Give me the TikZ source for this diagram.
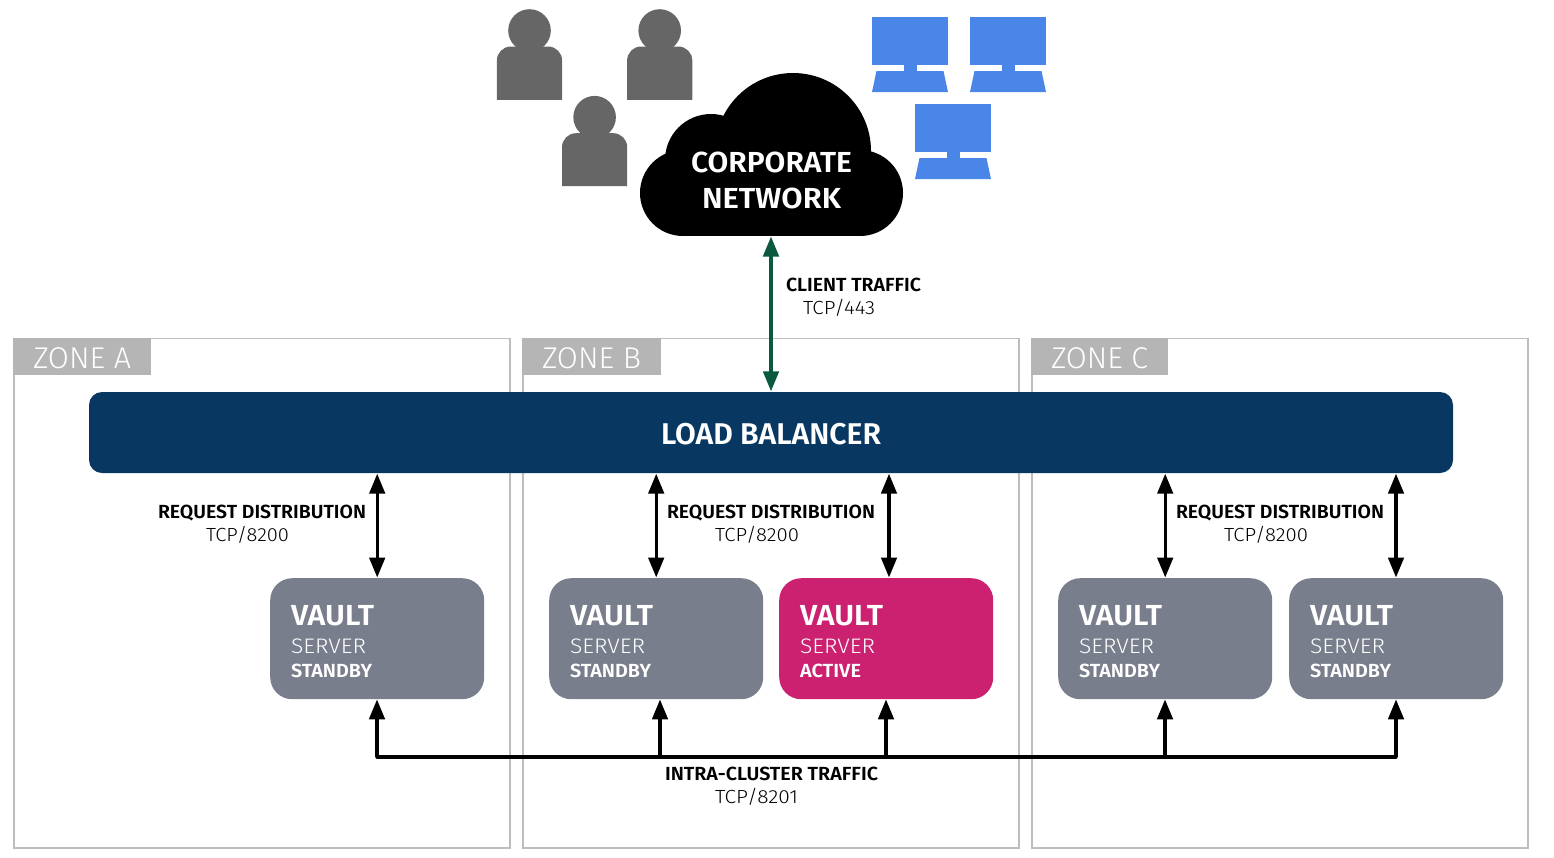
\documentclass[tikz,border=0pt]{standalone}
\usepackage{fontspec}
\usepackage{graphicx}
\usetikzlibrary{arrows.meta}
\setmainfont{Fira Sans}
\newfontfamily\lightf{Fira Sans Light}
\newfontfamily\boldf{Fira Sans SemiBold}
\definecolor{zoneline}{HTML}{BDBDBD}
\definecolor{zonetab}{HTML}{B5B5B5}
\definecolor{lbblue}{HTML}{083862}
\definecolor{vaultgrey}{HTML}{797E8C}
\definecolor{vaultpink}{HTML}{CC2170}
\definecolor{persongrey}{HTML}{666666}
\definecolor{monblue}{HTML}{4A86E8}
\definecolor{clientgreen}{HTML}{0B5A3E}
\newcommand{\fitw}[2]{\resizebox{#1pt}{\height}{#2}}
\newcommand{\txt}[6]{\node[anchor=base west,inner sep=0pt,outer sep=0pt,text=#2] (#1) at (#3,#4) {\fontsize{#5}{#5}\selectfont #6};}
\tikzset{
  zonebox/.style={draw=zoneline,line width=1.7pt,fill=none},
  zonetabs/.style={fill=zonetab,draw=none},
  vaultbox/.style={draw=none,rounded corners=22pt,minimum width=214pt,minimum height=121pt,inner sep=0pt,anchor=north west},
  lbbox/.style={fill=lbblue,draw=none,rounded corners=13pt,minimum width=1364pt,minimum height=81pt,inner sep=0pt,text=white},
  twoway/.style={line width=3.3pt,{Triangle[width=15.5pt,length=20pt]}-{Triangle[width=15.5pt,length=20pt]},shorten <=0.5pt,shorten >=0.5pt},
  upway/.style={line width=3.3pt,-{Triangle[width=15.5pt,length=20pt]}},
  busline/.style={line width=3.3pt,line cap=round},
}
\newcommand{\person}[2]{%
  \fill[persongrey] (#1,#2-16) circle[radius=21.3];
  \fill[persongrey,rounded corners=14pt] (#1-32.6,#2+53) -- (#1-32.6,#2) -- (#1+32.6,#2) -- (#1+32.6,#2+53);
  \fill[persongrey] (#1-32.6,#2+30) rectangle (#1+32.6,#2+53);
}
\newcommand{\monitor}[2]{%
  \fill[monblue] (#1-38,#2) rectangle (#1+38,#2+48);
  \fill[monblue] (#1-6.5,#2+48) rectangle (#1+6.5,#2+54);
  \fill[monblue] (#1-33.5,#2+54) -- (#1+33.5,#2+54) -- (#1+38,#2+75) -- (#1-38,#2+75) -- cycle;
}
\newcommand{\vaultnode}[5]{%
  \node[vaultbox,fill=#3] (#1) at (#2,578) {};
  \txt{#1a}{white}{#2+21}{625}{29}{\boldf\fitw{83}{VAULT}}
  \txt{#1b}{white}{#2+21}{653}{21}{\lightf\fitw{75}{SERVER}}
  \txt{#1c}{white}{#2+21}{677}{19}{\boldf\fitw{#4}{#5}}
}
\begin{document}
\begin{tikzpicture}[x=1pt,y=-1pt]
\useasboundingbox (0,0) rectangle (1554,857);
% zones
\foreach \n/\x/\w/\lab/\lw in {za/14/137/ZONE A/98,zb/523/138/ZONE B/99,zc/1032/136/ZONE C/97}{
  \draw[zonebox] (\x,338.6) rectangle (\x+496,848);
  \fill[zonetabs] (\x-0.8,337.8) rectangle (\x+\w,375);
  \txt{\n}{white}{\x+19}{368}{30}{\lightf\fitw{\lw}{\lab}}
}
% users
\person{529.5}{46.5}
\person{659.7}{46.5}
\person{594.6}{133.2}
% monitors
\monitor{910}{17}
\monitor{1008}{17}
\monitor{953}{104}
% cloud
\fill[black] (683,193) circle[radius=43];
\fill[black] (860,193) circle[radius=43];
\fill[black] (711,160) circle[radius=46];
\fill[black] (793,151) circle[radius=78];
\fill[black] (683,150) rectangle (860,236);
\txt{cl1}{white}{691}{172}{29}{\boldf\fitw{161}{CORPORATE}}
\txt{cl2}{white}{702}{208}{29}{\boldf\fitw{139}{NETWORK}}
\coordinate (cloudb) at (771,236);
% load balancer
\node[lbbox] (lb) at (771,432.5) {};
\txt{lbt}{white}{661}{444}{30}{\boldf\fitw{220}{LOAD BALANCER}}
% vaults
\vaultnode{v1}{270}{vaultgrey}{81}{STANDBY}
\vaultnode{v2}{549}{vaultgrey}{81}{STANDBY}
\vaultnode{v3}{779}{vaultpink}{61}{ACTIVE}
\vaultnode{v4}{1058}{vaultgrey}{81}{STANDBY}
\vaultnode{v5}{1289}{vaultgrey}{81}{STANDBY}
% connectors
\draw[twoway,draw=clientgreen] (cloudb) -- (lb.north);
\coordinate (r3) at (889,578);
\coordinate (r5) at (1396,578);
\draw[twoway] (v1.north |- lb.south) -- (v1.north);
\draw[twoway] (v2.north |- lb.south) -- (v2.north);
\draw[twoway] (r3 |- lb.south) -- (r3);
\draw[twoway] (v4.north |- lb.south) -- (v4.north);
\draw[twoway] (r5 |- lb.south) -- (r5);
\coordinate (b1) at (377,757);
\coordinate (b2) at (660,757);
\coordinate (b3) at (886,757);
\coordinate (b4) at (1165,757);
\coordinate (b5) at (1396,757);
\draw[busline] (b1) -- (b5);
\draw[upway] (b1) -- (b1 |- v1.south);
\draw[upway] (b2) -- (b2 |- v2.south);
\draw[upway] (b3) -- (b3 |- v3.south);
\draw[upway] (b4) -- (b4 |- v4.south);
\draw[upway] (b5) -- (b5 |- v5.south);
% labels
\txt{cta}{black}{786}{291}{19}{\boldf\fitw{135}{CLIENT TRAFFIC}}
\txt{ctb}{black}{803}{314}{19}{\lightf\fitw{72}{TCP/443}}
\txt{ra}{black}{158}{518}{19}{\boldf\fitw{208}{REQUEST DISTRIBUTION}}
\txt{rb}{black}{206}{541}{19}{\lightf\fitw{83}{TCP/8200}}
\txt{rc}{black}{667}{518}{19}{\boldf\fitw{208}{REQUEST DISTRIBUTION}}
\txt{rd}{black}{715}{541}{19}{\lightf\fitw{84}{TCP/8200}}
\txt{re}{black}{1176}{518}{19}{\boldf\fitw{208}{REQUEST DISTRIBUTION}}
\txt{rf}{black}{1224}{541}{19}{\lightf\fitw{84}{TCP/8200}}
\txt{ica}{black}{665}{780}{19}{\boldf\fitw{213}{INTRA-CLUSTER TRAFFIC}}
\txt{icb}{black}{715}{803}{19}{\lightf\fitw{83}{TCP/8201}}
\end{tikzpicture}
\end{document}
